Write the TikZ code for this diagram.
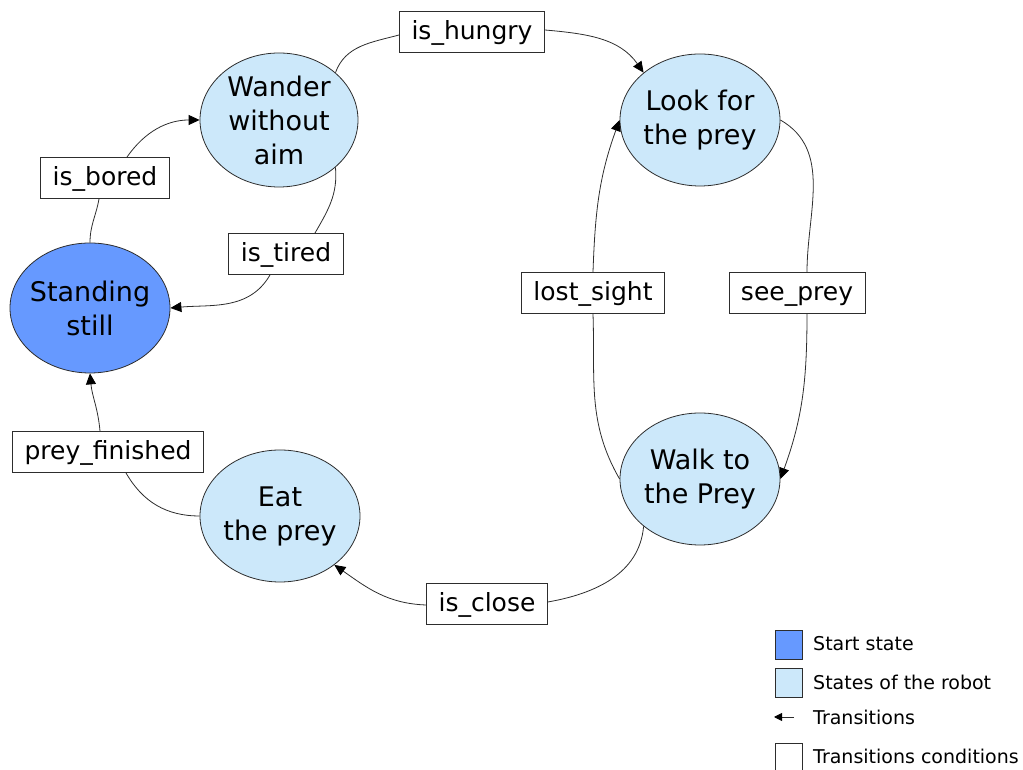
\documentclass[tikz,border=0pt]{standalone}
\usepackage{fontspec}
\setmainfont{DejaVu Sans}
\usetikzlibrary{shapes.geometric,arrows.meta,calc}
\definecolor{startblue}{RGB}{102,153,255}
\definecolor{stateblue}{RGB}{204,232,250}
\definecolor{linegray}{RGB}{45,45,45}
\begin{document}
\begin{tikzpicture}[x=1pt,y=1pt,
  state/.style={ellipse,draw=linegray,line width=0.8pt,fill=stateblue,
    minimum width=160pt,minimum height=132pt,inner sep=0pt,align=center,
    font=\fontsize{27}{34}\selectfont},
  startstate/.style={state,fill=startblue,minimum height=130pt,inner sep=-5pt},
  cond/.style={rectangle,draw=linegray,line width=0.9pt,fill=white,
    minimum height=41pt,inner xsep=12pt,inner ysep=0pt,
    text depth=4pt,text height=19pt,
    font=\fontsize{25}{30}\selectfont},
  trans/.style={draw=linegray,line width=0.8pt,
    -{Triangle[length=11pt,width=10pt,color=black]}},
  link/.style={draw=linegray,line width=0.8pt},
  legendtext/.style={anchor=west,inner sep=0pt,font=\fontsize{19}{23}\selectfont}]
\useasboundingbox (0,0) rectangle (1023,770);

% states
\node[startstate] (still) at (90,462) {Standing\\still};
\node[state,minimum width=158pt,minimum height=134pt] (wander) at (279,650) {Wander\\without\\aim};
\node[state] (look) at (700,650) {Look for\\the prey};
\node[state] (walk) at (700,291) {Walk to\\the Prey};
\node[state] (eat) at (280,254) {Eat\\the prey};

% transition conditions
\node[cond] (hungry) at (472,738) {is\_hungry};
\node[cond] (bored) at (105,592) {is\_bored};
\node[cond] (tired) at (286,516) {is\_tired};
\node[cond] (lost) at (593,477) {lost\_sight};
\node[cond] (see) at (797,477) {see\_prey};
\node[cond] (finished) at (108,318) {prey\_finished};
\node[cond] (close) at (487,166) {is\_close};

% standing still -> wander
\path[link] (still.north) to[out=90,in=-100] ($(bored.south)+(-6,0)$);
\path[trans] ($(bored.north)+(22,0)$) to[out=55,in=180] (wander.west);

% wander -> standing still
\path[link] (wander.-40) to[out=-85,in=60] ($(tired.north)+(29,0)$);
\path[trans] ($(tired.south)+(-16,0)$) to[out=-120,in=5] (still.east);

% wander -> look for the prey
\path[link] (wander.40) to[out=70,in=195] ($(hungry.west)+(0,-3)$);
\path[trans] ($(hungry.east)+(0,2)$) to[out=-5,in=125] (look.140);

% look for the prey -> walk to the prey
\path[link] (look.east) to[out=-30,in=90] ($(see.north)+(10,0)$);
\path[trans] ($(see.south)+(10,0)$) to[out=-90,in=70] (walk.east);

% walk to the prey -> look for the prey
\path[link] (walk.west) to[out=120,in=-88] (lost.south);
\path[trans] (lost.north) to[out=88,in=-110] (look.west);

% walk to the prey -> eat the prey
\path[link] (walk.-140) to[out=-95,in=10] ($(close.east)+(0,2)$);
\path[trans] ($(close.west)+(0,-1)$) to[out=178,in=-35] (eat.-42);

% eat the prey -> standing still
\path[link] (eat.west) to[out=180,in=-60] ($(finished.south)+(18,0)$);
\path[trans] ($(finished.north)+(-8,0)$) to[out=95,in=-85] (still.south);

% legend
\node[draw=linegray,line width=0.8pt,fill=startblue,minimum width=27pt,minimum height=29pt,inner sep=0pt] (lgstart) at (788.5,125.5) {};
\node[draw=linegray,line width=0.8pt,fill=stateblue,minimum width=27pt,minimum height=29pt,inner sep=0pt] (lgstate) at (788.5,87.5) {};
\coordinate (lgarrowa) at (794,53);
\coordinate (lgarrowb) at (774,53);
\draw[draw=linegray,line width=0.9pt,-{Triangle[length=8pt,width=8pt,color=black]}] (lgarrowa) -- (lgarrowb);
\draw[draw=linegray,line width=0.8pt] (775,-2) |- (802,27) -- (802,-2);
\node[legendtext] (lgt1) at (813,126) {Start state};
\node[legendtext] (lgt2) at (813,88) {States of the robot};
\node[legendtext] (lgt3) at (813,53) {Transitions};
\node[legendtext] (lgt4) at (813,14) {Transitions conditions};
\end{tikzpicture}
\end{document}
